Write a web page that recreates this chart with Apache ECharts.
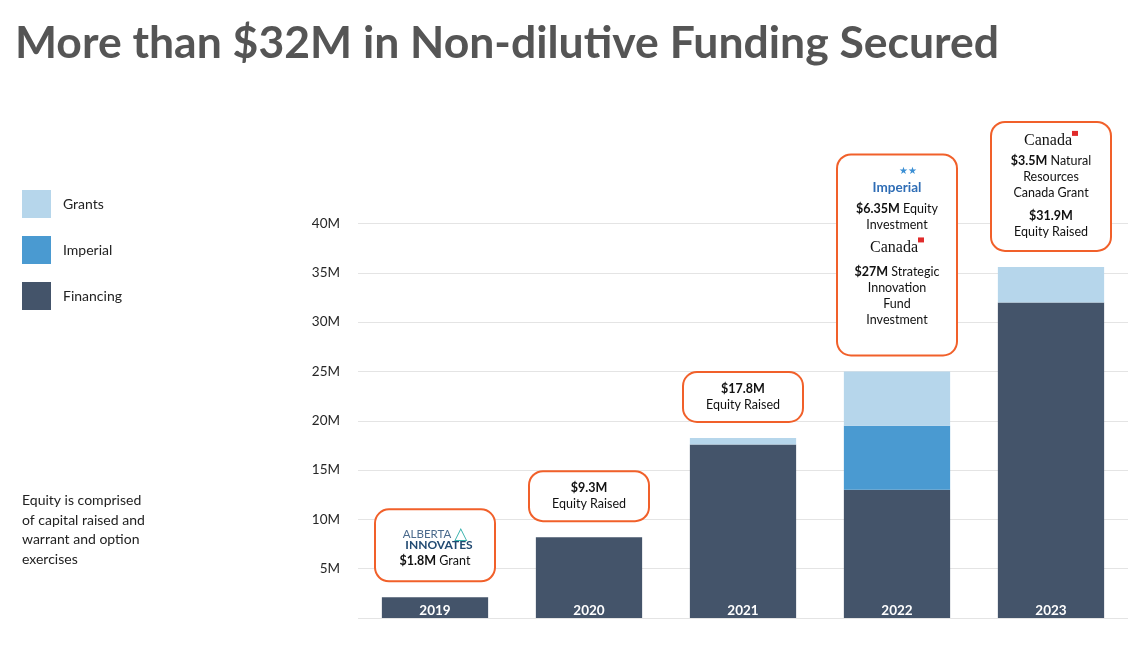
<!DOCTYPE html>
<html>
<head>
<meta charset="utf-8">
<script src="https://cdn.jsdelivr.net/npm/echarts@6/dist/echarts.min.js"></script>
<style>html,body{margin:0;padding:0;background:#fff}#c{width:1128px;height:665px}</style>
</head>
<body>
<div id="c"></div>
<script>
// ---- data ----
const categories = ['2019', '2020', '2021', '2022', '2023'];
const financing = [2.1, 8.2, 17.6, 13.0, 32.0];
const imperial = [0, 0, 0, 6.5, 0];
const grants = [0, 0, 0.65, 5.5, 3.6];
const seriesNames = ['Grants', 'Imperial', 'Financing'];
const yMin = 0, yMax = 40, yStep = 5;
const titleText = 'More than $32M in Non-dilutive Funding Secured';
const footnote = 'Equity is comprised\nof capital raised and\nwarrant and option\nexercises';
const notes = [
  '{s11| }\n{ab|ALBERTA }{tri|△}\n{in|INNOVATES}\n{bb|$1.8M}{tt| Grant}',
  '{b|$9.3M}\n{t|Equity Raised}',
  '{b|$17.8M}\n{t|Equity Raised}',
  '{star|★★}\n{imp|Imperial}\n{s6| }\n{b|$6.35M}{t| Equity}\n{t|Investment}\n{s4| }\n{ca|Canada}{flag| }\n{s7| }\n{b|$27M}{t| Strategic}\n{t|Innovation}\n{t|Fund}\n{t|Investment}\n{s18| }',
  '{ca|Canada}{flag| }\n{s2| }\n{b|$3.5M}{t| Natural}\n{t|Resources}\n{t|Canada Grant}\n{s7| }\n{b|$31.9M}\n{t|Equity Raised}\n{s2| }'
];

// ---- styles ----
const FONT = 'Lato';
const C_FIN = '#44546A', C_IMP = '#4A9AD1', C_GR = '#B6D6EB';
const ORANGE = '#F1602A';
const sp = h => ({ fontSize: 1, lineHeight: h });
const rich = {
  b: { fontFamily: FONT, fontWeight: 'bold', fontSize: 12.5, lineHeight: 16, color: '#111' },
  t: { fontFamily: FONT, fontSize: 12.5, lineHeight: 16, color: '#111' },
  bb: { fontFamily: FONT, fontWeight: 'bold', fontSize: 12.5, lineHeight: 22, color: '#111' },
  tt: { fontFamily: FONT, fontSize: 12.5, lineHeight: 22, color: '#111' },
  ab: { fontFamily: FONT, fontSize: 11.5, lineHeight: 11, color: '#4a6a8c' },
  tri: { fontFamily: 'DejaVu Sans', fontSize: 17, lineHeight: 11, color: '#3ab3ae', fontWeight: 'bold' },
  in: { fontFamily: FONT, fontWeight: 'bold', fontSize: 12, lineHeight: 10, color: '#214a72', padding: [0, 0, 0, 8] },
  star: { fontFamily: 'DejaVu Sans', fontSize: 10, lineHeight: 16, color: '#3b8fd4', padding: [0, 0, 0, 22] },
  imp: { fontFamily: FONT, fontWeight: 'bold', fontSize: 13.5, lineHeight: 16, color: '#2f6db5' },
  ca: { fontFamily: 'Liberation Serif', fontSize: 16, lineHeight: 20, color: '#111' },
  flag: { backgroundColor: '#e02b2b', width: 6, height: 5, fontSize: 1, verticalAlign: 'top' },
  s2: sp(2), s4: sp(4), s6: sp(6), s7: sp(7), s11: sp(11), s18: sp(18)
};

const chart = echarts.init(document.getElementById('c'), null, { renderer: 'canvas' });
chart.setOption({
  animation: false,
  textStyle: { fontFamily: FONT },
  title: [
    { text: titleText, left: 15, top: 21, padding: 0,
      textStyle: { fontFamily: FONT, fontWeight: 'bold', fontSize: 44.5, color: '#555' } },
    { text: footnote, left: 22, top: 491, padding: 0,
      textStyle: { fontFamily: FONT, fontWeight: 'normal', fontSize: 14, lineHeight: 19.5, color: '#222' } }
  ],
  legend: {
    data: seriesNames, orient: 'vertical', left: 22, top: 190, padding: 0,
    itemWidth: 29, itemHeight: 28, itemGap: 18, icon: 'rect',
    textStyle: { fontFamily: FONT, fontSize: 14, color: '#222', padding: [0, 0, 0, 7] }
  },
  grid: { left: 358, right: -8, top: 223.5, bottom: 47, containLabel: false },
  xAxis: {
    type: 'category', data: categories,
    axisLine: { show: false }, axisTick: { show: false }, axisLabel: { show: false }
  },
  yAxis: {
    type: 'value', min: yMin, max: yMax, interval: yStep,
    axisLine: { show: false }, axisTick: { show: false },
    splitLine: { lineStyle: { color: '#e4e4e4', width: 1 } },
    axisLabel: { formatter: v => v === 0 ? '' : v + 'M', fontFamily: FONT, fontSize: 13.5, color: '#262626', margin: 18 }
  },
  series: [
    { name: 'Financing', type: 'bar', stack: 'a', data: financing, barCategoryGap: '31%',
      itemStyle: { color: C_FIN },
      label: { show: true, position: 'insideBottom', distance: 0, formatter: '{b}',
        color: '#fff', fontWeight: 'bold', fontSize: 13.5, fontFamily: FONT } },
    { name: 'Imperial', type: 'bar', stack: 'a', data: imperial, barCategoryGap: '31%',
      itemStyle: { color: C_IMP } },
    { name: 'Grants', type: 'bar', stack: 'a', data: grants, barCategoryGap: '31%',
      itemStyle: { color: C_GR } },
    { name: 'Notes', type: 'bar', stack: 'a', data: categories.map(() => 0), barCategoryGap: '31%',
      itemStyle: { color: 'transparent' }, z: 5,
      label: { show: true, position: 'top', distance: 17,
        formatter: p => notes[p.dataIndex],
        width: 104, align: 'center',
        fontFamily: FONT, fontSize: 12.5, lineHeight: 16, color: '#111',
        backgroundColor: '#fff', borderColor: ORANGE, borderWidth: 2, borderRadius: 13,
        padding: [8, 7, 8, 7], rich: rich } }
  ]
});
</script>
</body>
</html>
